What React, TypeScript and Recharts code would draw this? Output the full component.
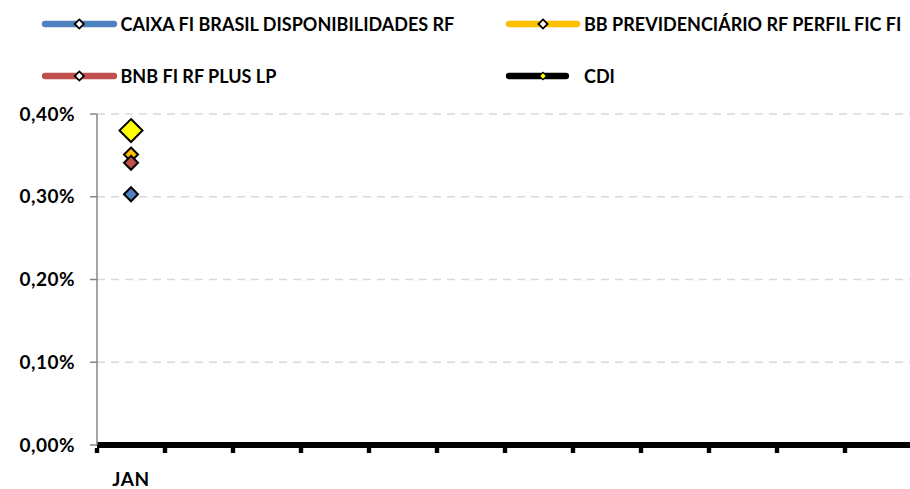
import React from "react";
import { LineChart, Line, XAxis, YAxis, CartesianGrid } from "recharts";

const MONTHS = ["JAN", "FEV", "MAR", "ABR", "MAI", "JUN", "JUL", "AGO", "SET", "OUT", "NOV", "DEZ"];
const MONTH_LABELS = ["JAN", "", "", "", "", "", "", "", "", "", "", ""];
const CAIXA = [0.303, null, null, null, null, null, null, null, null, null, null, null];
const BB = [0.351, null, null, null, null, null, null, null, null, null, null, null];
const BNB = [0.341, null, null, null, null, null, null, null, null, null, null, null];
const CDI = [0.38, null, null, null, null, null, null, null, null, null, null, null];
const Y_TICKS = [0, 0.1, 0.2, 0.3, 0.4];

const SERIES = [
  { key: "caixa", name: "CAIXA FI BRASIL DISPONIBILIDADES RF", color: "#4F81BD", dotFill: "#4F81BD", size: 7, legendFill: "#FFFFFF" },
  { key: "bb", name: "BB PREVIDENCIÁRIO RF PERFIL FIC FI", color: "#FFC000", dotFill: "#FFC000", size: 7, legendFill: "#FFFFFF" },
  { key: "bnb", name: "BNB FI RF PLUS LP", color: "#C0504D", dotFill: "#C0504D", size: 7, legendFill: "#FFFFFF" },
  { key: "cdi", name: "CDI", color: "#000000", dotFill: "#FFFF00", size: 11.5, legendFill: "#FFFF00" },
];

const data = MONTHS.map((m, i) => ({
  month: m,
  caixa: CAIXA[i],
  bb: BB[i],
  bnb: BNB[i],
  cdi: CDI[i],
}));

const FONT = "Lato, 'Open Sans', sans-serif";

const makeDot = (fill: string, r: number) => (props: any) => {
  const { cx, cy, index } = props;
  if (cx == null || cy == null || props.value == null) return <g key={`d-${index}`} />;
  return (
    <path
      key={`d-${index}`}
      d={`M${cx},${cy - r} L${cx + r},${cy} L${cx},${cy + r} L${cx - r},${cy} Z`}
      fill={fill}
      stroke="#000"
      strokeWidth={2}
      strokeLinejoin="miter"
    />
  );
};

const MonthTick = (props: any) => {
  const { x, y, payload, index } = props;
  const off = payload && typeof payload.offset === "number" ? payload.offset : 0;
  const label = MONTH_LABELS[index] ?? "";
  return (
    <g>
      <rect x={x - off - 2.2} y={y + 3} width={4.4} height={5} fill="#000" />
      {label ? (
        <text
          x={x}
          y={y + 41}
          textAnchor="middle"
          fontFamily={FONT}
          fontWeight={700}
          fontSize={19}
          letterSpacing={0.6}
          fill="#000"
        >
          {label}
        </text>
      ) : null}
    </g>
  );
};

const Legend2 = () => {
  const items = [
    { s: SERIES[0], x1: 42, x2: 117, mx: 79.3, tx: 120.5, cy: 24, r: 4.6 },
    { s: SERIES[1], x1: 506, x2: 580, mx: 543, tx: 584, cy: 24, r: 4.6 },
    { s: SERIES[2], x1: 42, x2: 117, mx: 79.3, tx: 120.5, cy: 76, r: 4.6 },
    { s: SERIES[3], x1: 506, x2: 569, mx: 543, tx: 584, cy: 76, r: 3.6 },
  ];
  return (
    <svg width={910} height={100} style={{ position: "absolute", left: 0, top: 0 }}>
      {items.map((it) => (
        <g key={it.s.key}>
          <line x1={it.x1 + 3} y1={it.cy} x2={it.x2 - 3} y2={it.cy} stroke={it.s.color} strokeWidth={6.3} strokeLinecap="round" />
          <path
            d={`M${it.mx},${it.cy - it.r} L${it.mx + it.r},${it.cy} L${it.mx},${it.cy + it.r} L${it.mx - it.r},${it.cy} Z`}
            fill={it.s.legendFill}
            stroke="#000"
            strokeWidth={it.s.key === "cdi" ? 1.2 : 1.8}
          />
          <text x={it.tx} y={it.cy + 6.5} fontFamily={FONT} fontWeight={700} fontSize={18} fill="#000">
            {it.s.name}
          </text>
        </g>
      ))}
    </svg>
  );
};

export default function App() {
  return (
    <div style={{ position: "absolute", left: 0, top: 0, width: 910, height: 489, overflow: "hidden", background: "#fff" }}>
      <LineChart width={913} height={489} data={data} margin={{ top: 114, right: 0, bottom: 0, left: 0 }}>
        <CartesianGrid vertical={false} stroke="#D9D9D9" strokeDasharray="8 6" strokeWidth={1.5} />
        <XAxis
          dataKey="month"
          type="category"
          scale="band"
          height={44}
          axisLine={{ stroke: "#000", strokeWidth: 6 }}
          tickLine={false}
          tickSize={0}
          tickMargin={0}
          interval={0}
          tick={<MonthTick />}
        />
        <YAxis
          domain={[0, 0.4]}
          ticks={Y_TICKS}
          width={97}
          tickSize={7}
          tickMargin={15}
          axisLine={{ stroke: "#868686", strokeWidth: 1.5 }}
          tickLine={{ stroke: "#868686", strokeWidth: 1.5 }}
          tickFormatter={(v: number) => v.toFixed(2).replace(".", ",") + "%"}
          tick={{ fontFamily: FONT, fontWeight: 700, fontSize: 19, letterSpacing: 0.5, fill: "#000" }}
        />
        {SERIES.map((s) => (
          <Line
            key={s.key}
            dataKey={s.key}
            name={s.name}
            stroke={s.color}
            strokeWidth={5}
            connectNulls={false}
            isAnimationActive={false}
            dot={makeDot(s.dotFill, s.size)}
            activeDot={false}
          />
        ))}
      </LineChart>
      <Legend2 />
    </div>
  );
}
